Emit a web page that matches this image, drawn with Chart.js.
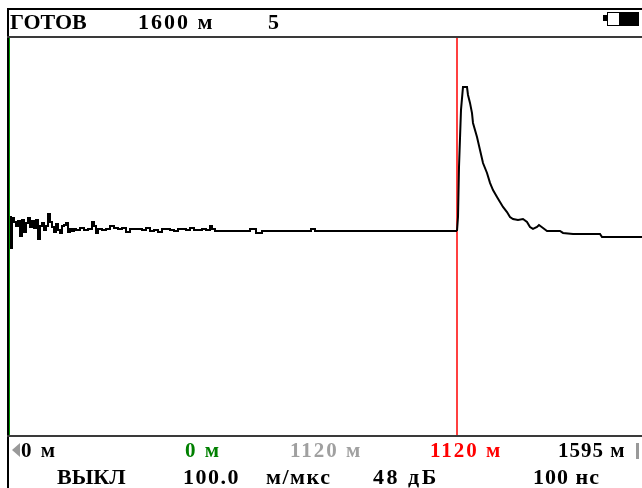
<!DOCTYPE html>
<html>
<head>
<meta charset="utf-8">
<script src="https://cdn.jsdelivr.net/npm/chart.js@4.4.1/dist/chart.umd.min.js"></script>
<style>
    body { margin: 0; background: #fff; }
    #screen { position: relative; width: 642px; height: 488px; overflow: hidden; }
    #trace { position: absolute; left: 0; top: 0; }
    .lbl { position: absolute; font-family: "Liberation Serif", serif; font-weight: bold; white-space: nowrap; color: #000; }
    .hdr { font-size: 22px; line-height: 22px; top: 11px; }
    .row1 { font-size: 21px; line-height: 21px; top: 440px; letter-spacing: 2px; }
    .row2 { font-size: 22px; line-height: 22px; top: 466px; letter-spacing: 1.5px; }
    .wide { letter-spacing: 2px; }
    .battery { position: absolute; left: 607px; top: 12px; width: 30px; height: 12px; border: 1px solid #000; background: linear-gradient(to right, #fff 0, #fff 11px, #000 11px); }
    .nub { position: absolute; left: 603px; top: 15px; width: 4px; height: 6px; background: #000; }
    .arrow { position: absolute; left: 12px; top: 443px; width: 0; height: 0; border-top: 7px solid transparent; border-bottom: 7px solid transparent; border-right: 8px solid #999; }
    .bar { position: absolute; left: 636px; top: 443px; width: 3px; height: 16px; background: #999; }
</style>
</head>
<body>
<div id="screen">
    <canvas id="trace" width="642" height="488"></canvas>

    <div class="lbl hdr" style="left:10px">ГОТОВ</div>
    <div class="lbl hdr wide" style="left:138px">1600 м</div>
    <div class="lbl hdr" style="left:268px">5</div>
    <div class="nub"></div>
    <div class="battery"></div>

    <div class="arrow"></div>
    <div class="lbl row1" style="left:21px">0 м</div>
    <div class="lbl row1" style="left:185px; color:#008000">0 м</div>
    <div class="lbl row1" style="left:290px; color:#a0a0a0">1120 м</div>
    <div class="lbl row1" style="left:430px; color:#ff0000">1120 м</div>
    <div class="lbl row1" style="left:558px; letter-spacing:1px">1595 м</div>
    <div class="bar"></div>

    <div class="lbl row2" style="left:57px; letter-spacing:0">ВЫКЛ</div>
    <div class="lbl row2" style="left:183px">100.0</div>
    <div class="lbl row2" style="left:266px">м/мкс</div>
    <div class="lbl row2" style="left:373px; letter-spacing:2.5px">48 дБ</div>
    <div class="lbl row2" style="left:533px; letter-spacing:1px">100 нс</div>
</div>

<script>
// reflectogram samples: distance (m) and signal level (relative units, -100..100)
const distM = [
    2.5, 5, 7.5, 12.5, 17.5, 22.5, 27.5, 32.5, 37.5, 42.5, 47.5, 52.5, 57.5, 62.5, 67.5,
    72.5, 77.5, 82.5, 87.5, 92.5, 97.5, 102.5, 107.5, 112.5, 117.5, 122.5, 127.5, 132.5,
    137.5, 142.5, 147.5, 152.5, 157.5, 162.5, 167.5, 172.5, 177.5, 187.5, 197.5, 207.5,
    212.5, 217.5, 222.5, 232.5, 242.5, 252.5, 262.5, 272.5, 282.5, 292.5, 302.5, 312.5,
    322.5, 332.5, 342.5, 352.5, 362.5, 372.5, 382.5, 392.5, 402.5, 412.5, 422.5, 432.5,
    442.5, 452.5, 462.5, 472.5, 482.5, 492.5, 502.5, 507.5, 515, 602.5, 617.5, 632.5,
    755, 765, 1120, 1122.5, 1125, 1130, 1135, 1145, 1147.5, 1152.5, 1157.5, 1160, 1170,
    1177.5, 1185, 1195, 1202.5, 1210, 1220, 1227.5, 1235, 1245, 1252.5, 1260, 1272.5,
    1285, 1295, 1302.5, 1310, 1320, 1325, 1335, 1345, 1377.5, 1385, 1410, 1477.5, 1482.5,
    1582.5
];
const level = [
    9.8, -5.8, 9.3, 7.3, 5.3, 7.8, 0.3, 8.3, 2.3, 6.8, 9.3, 4.8, 7.8, 4.3, 8.3,
    -1.3, 5.3, 6.8, 3.3, 5.3, 11.3, 7.3, 4.8, 2.3, 6.3, 3.3, 1.8, 5.3,
    5.8, 6.8, 2.3, 3.8, 2.8, 3.8, 3.3, 3.3, 4.3, 3.3, 3.8, 7.3,
    5.3, 1.8, 3.8, 3.3, 3.8, 5.3, 4.3, 3.8, 4.3, 2.3, 3.8, 3.8,
    3.8, 3.3, 4.3, 2.8, 3.3, 2.3, 3.8, 3.8, 3.3, 2.8, 3.8, 3.8,
    3.3, 4.3, 3.3, 3.3, 3.8, 3.3, 5.3, 3.8, 2.8, 3.8, 1.8, 2.8,
    3.8, 2.8, 2.8, 9.8, 35.0, 63.8, 75.3, 75.3, 71.3, 67.3, 62.2, 57.2, 50.1,
    43.6, 37.0, 32.0, 27.0, 23.4, 19.9, 17.4, 14.9, 12.3, 9.8, 8.8, 8.3,
    8.8, 7.3, 4.8, 3.8, 4.8, 5.8, 4.3, 2.8, 2.8, 1.8, 1.3, 1.3, -0.3,
    -0.3
];
const startM = 0;      // green marker
const cursorM = 1120;  // red cursor
const xMax = 1582.5;
const yMin = -100;
const yMax = 100;

const tracePoints = distM.map((d, i) => ({ x: d, y: level[i] }));
// noisy part is drawn sample-and-hold, the reflection as a plain line
const noisePoints = tracePoints.filter(p => p.x <= cursorM);
const eventPoints = tracePoints.filter(p => p.x >= cursorM);

const framePlugin = {
    id: 'frame',
    afterDraw(chart) {
        const ctx = chart.ctx;
        const area = chart.chartArea;
        ctx.save();
        ctx.fillStyle = '#000';
        ctx.fillRect(7, 8, 635, 2);
        ctx.fillRect(7, 8, 2, 480);
        ctx.fillStyle = '#3a3a3a';
        ctx.fillRect(7, area.top - 2, 635, 2);
        ctx.fillRect(7, area.bottom, 635, 2);
        ctx.restore();
    }
};

new Chart(document.getElementById('trace'), {
    type: 'line',
    data: {
        datasets: [
            {
                data: noisePoints,
                borderColor: '#000',
                borderWidth: 2,
                stepped: true,
                pointRadius: 0
            },
            {
                data: eventPoints,
                borderColor: '#000',
                borderWidth: 2,
                tension: 0,
                pointRadius: 0
            },
            {
                data: [{ x: cursorM, y: yMin }, { x: cursorM, y: yMax }],
                borderColor: '#ff0000',
                borderWidth: 1.5,
                pointRadius: 0
            },
            {
                data: [{ x: startM, y: yMin }, { x: startM, y: yMax }],
                borderColor: '#009900',
                borderWidth: 2,
                pointRadius: 0
            }
        ]
    },
    options: {
        responsive: false,
        animation: false,
        devicePixelRatio: 1,
        layout: { padding: { left: 9, top: 38, right: 0, bottom: 53 } },
        plugins: { legend: { display: false }, tooltip: { enabled: false } },
        scales: {
            x: { type: 'linear', min: 0, max: xMax, display: false },
            y: { min: yMin, max: yMax, display: false }
        }
    },
    plugins: [framePlugin]
});
</script>
</body>
</html>
